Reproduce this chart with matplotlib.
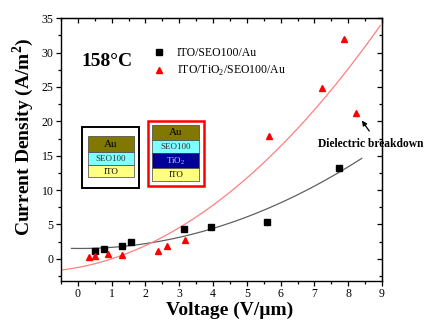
import matplotlib
matplotlib.use('Agg')
import matplotlib.pyplot as plt
import matplotlib.patches as mpatches
import numpy as np

plt.rcParams['font.family'] = ['Liberation Serif', 'DejaVu Serif']
plt.rcParams['mathtext.fontset'] = 'custom'
plt.rcParams['mathtext.rm'] = 'Liberation Serif'
plt.rcParams['mathtext.bf'] = 'Liberation Serif:bold'

# data
sq_x = [0.52, 0.78, 1.31, 1.58, 3.15, 3.93, 5.59, 7.74]
sq_y = [1.08, 1.37, 1.80, 2.40, 4.28, 4.57, 5.30, 13.16]
tri_x = [0.32, 0.52, 0.88, 1.31, 2.37, 2.63, 3.16, 5.65, 7.22, 7.89, 8.22]
tri_y = [0.20, 0.35, 0.64, 0.54, 1.12, 1.85, 2.72, 17.8, 24.9, 32.0, 21.2]

# fitted curves (quadratic coefficients, highest power first) and their x ranges
black_fit = [0.189, -0.026, 1.49]
black_range = [-0.19, 8.4]
red_fit = [0.3367, 0.922, -1.275]
red_range = [-0.5, 8.95]

legend_labels = ['ITO/SEO100/Au', 'ITO/TiO$_2$/SEO100/Au']

W, H = 426, 321
fig = plt.figure(figsize=(W / 100, H / 100), dpi=100)
ax = fig.add_axes([61 / W, 1 - 280.7 / H, (382 - 61) / W, (280.7 - 18.3) / H])


def fpx(x, y):
    return (x / W, 1 - y / H)


xb = np.linspace(black_range[0], black_range[1], 200)
xr = np.linspace(red_range[0], red_range[1], 200)
ax.plot(xb, np.polyval(black_fit, xb), color='#606060', lw=0.9, zorder=2)
ax.plot(xr, np.polyval(red_fit, xr), color='#ff8080', lw=0.9, zorder=2)

ax.plot(sq_x, sq_y, 's', color='black', ms=4.2, ls='none', label=legend_labels[0], zorder=3)
ax.plot(tri_x, tri_y, '^', color='red', ms=5, ls='none', label=legend_labels[1], zorder=3)

ax.set_xlim(-0.5, 9)
ax.set_ylim(-3.2, 35)
ax.set_xticks(range(0, 10))
ax.set_xticks(np.arange(-0.5, 9.01, 0.5), minor=True)
ax.set_yticks(range(0, 36, 5))
ax.set_yticks(np.arange(-2.5, 35.01, 2.5), minor=True)
ax.tick_params(which='both', direction='out', labelsize=8.5, width=0.9, pad=2)
ax.tick_params(which='major', length=3.5)
ax.tick_params(which='minor', length=2)
for s in ax.spines.values():
    s.set_linewidth(1.0)

top = ax.secondary_xaxis('top')
top.set_xticks(range(0, 10))
top.set_xticks(np.arange(-0.5, 9.01, 0.5), minor=True)
top.tick_params(which='both', direction='in', labeltop=False, width=0.9)
top.tick_params(which='major', length=3.5)
top.tick_params(which='minor', length=2)
right = ax.secondary_yaxis('right')
right.set_yticks(range(0, 36, 5))
right.set_yticks(np.arange(-2.5, 35.01, 2.5), minor=True)
right.tick_params(which='both', direction='in', labelright=False, width=0.9)
right.tick_params(which='major', length=3.5)
right.tick_params(which='minor', length=2)

ax.set_xlabel('Voltage (V/\u00b5m)', fontsize=14, fontweight='bold', labelpad=1)
ax.set_ylabel(r'Current Density (A/m$^\mathbf{2}$)', fontsize=14, fontweight='bold', labelpad=4)
ax.xaxis.label.set_x((230 - 61) / (382 - 61))
ax.yaxis.label.set_y((280.7 - 137) / (280.7 - 18.3))

ax.text(0.11, 28.7, '158\u00b0C', fontsize=14, fontweight='bold', va='center', ha='left')

leg = ax.legend(loc='upper left', bbox_to_anchor=fpx(152, 47), bbox_transform=fig.transFigure,
                frameon=False, fontsize=8.5, handlelength=1.2, handletextpad=0.9,
                labelspacing=0.45, borderpad=0, borderaxespad=0)

ax.annotate('', xy=(8.36, 20.44), xytext=(8.67, 18.25),
            arrowprops=dict(arrowstyle='-|>', color='black', lw=0.9, mutation_scale=7))
ax.text(7.11, 16.65, 'Dielectric breakdown', fontsize=8.3, fontweight='bold',
        va='center', ha='left', clip_on=False)


def rect(x0, y0, x1, y1, fc, ec='none', lw=0.0):
    p = mpatches.Rectangle(fpx(x0, y1), (x1 - x0) / W, (y1 - y0) / H,
                           transform=fig.transFigure, facecolor=fc, edgecolor=ec, lw=lw, zorder=5)
    fig.add_artist(p)


def label(x, y, s, size, color='black'):
    fig.text(x / W, 1 - y / H, s, fontsize=size, color=color, ha='center', va='center', zorder=6)


# black framed stack
rect(81.7, 127.3, 139, 187.7, 'white', 'black', 1.4)
layers1 = [(136, 151.7, '#807800', 'Au', 8, 'black'),
           (151.7, 165, '#80ffff', 'SEO100', 6.5, '#303030'),
           (165, 177.3, '#ffff80', 'ITO', 6.5, 'black')]
for y0, y1, c, t, fs, tc in layers1:
    rect(87.7, y0, 134.3, y1, c, '#404040', 0.5)
    label((87.7 + 134.3) / 2, (y0 + y1) / 2 + 0.5, t, fs, tc)

# red framed stack
rect(148, 120.7, 204, 186.3, 'white', 'red', 1.8)
layers2 = [(124.7, 140, '#807800', 'Au', 8, 'black'),
           (140, 152.7, '#80ffff', 'SEO100', 6.5, '#303030'),
           (152.7, 168.3, '#000099', 'TiO$_2$', 6.5, '#d0d0ff'),
           (168.3, 180.7, '#ffff80', 'ITO', 6.5, 'black')]
for y0, y1, c, t, fs, tc in layers2:
    rect(152.3, y0, 199, y1, c, '#404040', 0.5)
    label((152.3 + 199) / 2, (y0 + y1) / 2 + 0.5, t, fs, tc)

fig.savefig('out.png', dpi=100)
